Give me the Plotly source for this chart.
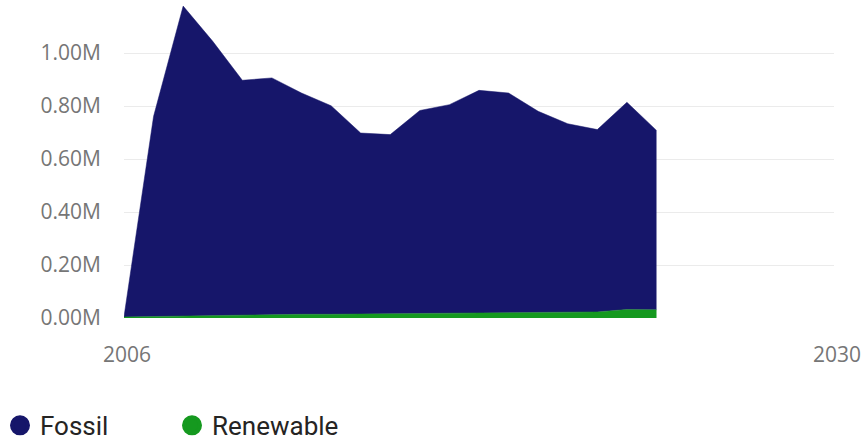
import plotly.graph_objects as go

years = list(range(2006, 2025))
total = [0.005, 0.761, 1.177, 1.044, 0.897, 0.906, 0.849, 0.801, 0.698, 0.692,
         0.783, 0.805, 0.859, 0.849, 0.780, 0.733, 0.711, 0.814, 0.708]
renewable = [0.004, 0.006, 0.008, 0.010, 0.011, 0.013, 0.014, 0.014, 0.015, 0.015,
             0.016, 0.018, 0.019, 0.020, 0.019, 0.020, 0.023, 0.032, 0.031]
fossil = [round(t - r, 4) for t, r in zip(total, renewable)]

y_ticks = [0, 0.2, 0.4, 0.6, 0.8, 1.0]
y_labels = ["0.00M", "0.20M", "0.40M", "0.60M", "0.80M", "1.00M"]
x_ticks = [2006, 2030]
x_labels = ["2006", "2030"]

FOSSIL = "#16166A"
RENEW = "#15991F"

fig = go.Figure()
fig.add_trace(go.Scatter(x=years, y=renewable, stackgroup="one", mode="lines",
                         line=dict(width=0.5, color=RENEW), fillcolor=RENEW,
                         name="Renewable", showlegend=False))
fig.add_trace(go.Scatter(x=years, y=fossil, stackgroup="one", mode="lines",
                         line=dict(width=0.5, color=FOSSIL), fillcolor=FOSSIL,
                         name="Fossil", showlegend=False))
# legend entries
fig.add_trace(go.Scatter(x=[None], y=[None], mode="markers", name="Fossil",
                         marker=dict(symbol="circle", size=16, color=FOSSIL,
                                     line=dict(width=4, color=FOSSIL))))
fig.add_trace(go.Scatter(x=[None], y=[None], mode="markers", name="Renewable",
                         marker=dict(symbol="circle", size=16, color=RENEW,
                                     line=dict(width=4, color=RENEW))))

fig.update_layout(
    width=862, height=441,
    margin=dict(l=124, r=28, t=0, b=123, autoexpand=False),
    paper_bgcolor="white", plot_bgcolor="white",
    font=dict(family="Open Sans, Segoe UI, sans-serif"),
    showlegend=True,
    legend=dict(orientation="h", xref="container", yref="paper",
                x=0.0, xanchor="left", y=-0.264, yanchor="top",
                font=dict(family="Roboto, sans-serif", size=26, color="#252423"),
                entrywidth=127, itemclick=False,
                traceorder="normal", bgcolor="rgba(0,0,0,0)"),
    xaxis=dict(range=[2006, 2030], tickvals=x_ticks, ticktext=x_labels,
               showgrid=False, zeroline=False, showline=False, ticks="",
               automargin=False, ticklabelshift=3,
               tickfont=dict(size=21, color="#767676"), ticklabelstandoff=22),
    yaxis=dict(range=[0, 1.2], tickvals=y_ticks, ticktext=y_labels,
               showgrid=True, gridcolor="#EBEBEB", gridwidth=1,
               zeroline=False, showline=False, ticks="", automargin=False,
               tickfont=dict(size=21, color="#767676"), ticklabelstandoff=22),
)

fig.write_html("out.html")
